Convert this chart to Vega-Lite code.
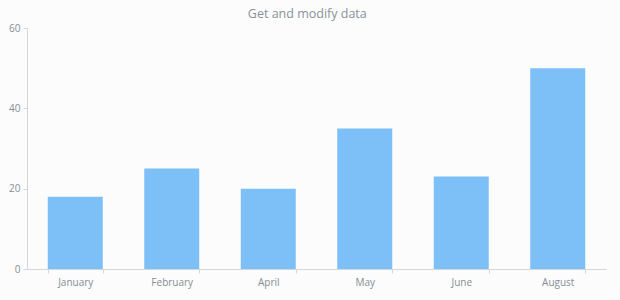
{
  "$schema": "https://vega.github.io/schema/vega-lite/v6.json",
  "autosize": {"type": "none"},
  "width": 579,
  "height": 241,
  "padding": {"left": 27, "top": 28, "right": 14, "bottom": 31},
  "background": "#fcfcfc",
  "title": {
    "text": "Get and modify data",
    "font": "Open Sans",
    "fontSize": 12.5,
    "fontWeight": "normal",
    "color": "#8a9299",
    "anchor": "middle",
    "frame": "bounds",
    "offset": 3
  },
  "data": {
    "values": [
      {"month": "January", "value": 18},
      {"month": "February", "value": 25},
      {"month": "April", "value": 20},
      {"month": "May", "value": 35},
      {"month": "June", "value": 23},
      {"month": "August", "value": 50}
    ]
  },
  "config": {
    "view": {"stroke": null},
    "axis": {
      "labelFont": "Open Sans",
      "labelFontSize": 10,
      "labelColor": "#858d95",
      "domainColor": "#d3d7db",
      "tickColor": "#d3d7db",
      "grid": false
    }
  },
  "mark": {"type": "bar", "color": "#7dbff7"},
  "encoding": {
    "x": {
      "field": "month",
      "type": "nominal",
      "sort": null,
      "title": null,
      "scale": {"paddingInner": 0.43, "paddingOuter": 0.215},
      "axis": {"labelAngle": 0, "tickBand": "extent", "tickSize": 4, "labelPadding": 4}
    },
    "y": {
      "field": "value",
      "type": "quantitative",
      "title": null,
      "scale": {"domain": [0, 60]},
      "axis": {"values": [0, 20, 40, 60], "tickSize": 4, "labelPadding": 3}
    }
  }
}
